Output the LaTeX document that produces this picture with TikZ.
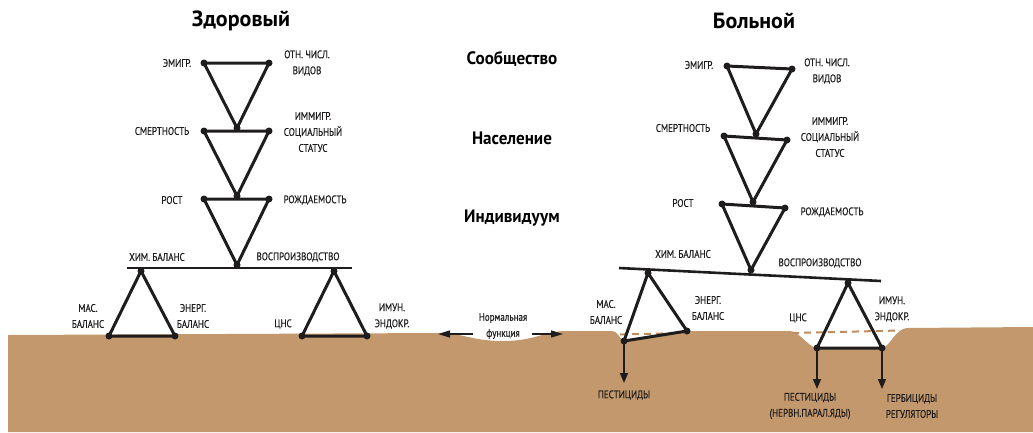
\documentclass[tikz,border=0pt]{standalone}
\usepackage{fontspec}
\setmainfont[FakeStretch=0.82,FakeBold=0.35]{PT Sans}
\newfontfamily\headfont{PT Sans}
\newfontfamily\midfont[FakeStretch=0.95]{PT Sans}
\usetikzlibrary{arrows.meta}
\definecolor{soil}{RGB}{194,152,108}
\definecolor{dashsoil}{RGB}{190,140,95}
\definecolor{ink}{RGB}{30,28,28}
\begin{document}
\begin{tikzpicture}[x=1pt,y=-1pt,
  dot/.style={circle,fill=ink,inner sep=0pt,minimum size=7pt},
  tri/.style={draw=ink,line width=3pt,line join=round},
  barline/.style={draw=ink,line width=2.6pt},
  arr/.style={draw=ink,line width=1.5pt,-{Triangle[length=10pt,width=8pt]}},
  narr/.style={draw=ink,line width=1.5pt,-{Triangle[length=12pt,width=7pt]}},
  lbl/.style={text=ink,font=\fontsize{11}{16}\selectfont,align=center,inner sep=0pt},
  head/.style={text=black,font=\headfont\bfseries\fontsize{22}{24}\selectfont,inner sep=0pt},
  level/.style={text=black,font=\midfont\bfseries\fontsize{18}{20}\selectfont,inner sep=0pt},
  dashlvl/.style={draw=dashsoil,line width=2pt,dash pattern=on 7pt off 5pt}]
\useasboundingbox (0,0) rectangle (1033,432);

% ground
\fill[soil] (8,335) -- (440,333) .. controls (462,333) and (472,341) .. (503,341)
  .. controls (535,341) and (545,331) .. (566,331) -- (612,331)
  .. controls (618,331) and (620,340) .. (624,341) -- (687,331) -- (790,331)
  .. controls (800,332) and (808,347) .. (817,348) -- (882,348)
  .. controls (890,347) and (895,329) .. (907,328) -- (1033,327)
  -- (1033,432) -- (8,432) -- cycle;

% headings
\node[head] (hL) at (241,21) {Здоровый};
\node[head] (hR) at (754,21) {Больной};
\node[level] (lv1) at (512,59) {Сообщество};
\node[level] (lv2) at (512,138) {Население};
\node[level] (lv3) at (512,218) {Индивидуум};

% ===== healthy =====
\node[dot] (l1a) at (204,63) {};
\node[dot] (l1b) at (269,63) {};
\node[dot] (l1c) at (237,128) {};
\node[dot] (l2a) at (204,131) {};
\node[dot] (l2b) at (269,131) {};
\node[dot] (l2c) at (237,196) {};
\node[dot] (l3a) at (204,199) {};
\node[dot] (l3b) at (269,199) {};
\node[dot] (l3c) at (237,265) {};
\coordinate (lbarA) at (127,268);
\coordinate (lbarB) at (352,268);
\node[dot] (lt1) at (141,271) {};
\node[dot] (lt1a) at (109,336) {};
\node[dot] (lt1b) at (175,336) {};
\node[dot] (lt2) at (334,271) {};
\node[dot] (lt2a) at (302,336) {};
\node[dot] (lt2b) at (367,336) {};

\draw[tri] (l1a.center) -- (l1b.center) -- (l1c.center) -- cycle;
\draw[tri] (l2a.center) -- (l2b.center) -- (l2c.center) -- cycle;
\draw[tri] (l3a.center) -- (l3b.center) -- (l3c.center) -- cycle;
\draw[barline] (lbarA) -- (lbarB);
\draw[tri] (lt1.center) -- (lt1a.center) -- (lt1b.center) -- cycle;
\draw[tri] (lt2.center) -- (lt2a.center) -- (lt2b.center) -- cycle;

\node[lbl] (tl1) at (177,63) {ЭМИГР.};
\node[lbl] (tl2) at (307,63) {ОТН. ЧИСЛ.\\ВИДОВ};
\node[lbl] (tl3) at (162,131) {СМЕРТНОСТЬ};
\node[lbl] (tl4) at (313,132) {ИММИГР.\\СОЦИАЛЬНЫЙ\\СТАТУС};
\node[lbl] (tl5) at (172,200) {РОСТ};
\node[lbl] (tl6) at (315,200) {РОЖДАЕМОСТЬ};
\node[lbl] (tl7) at (157,257) {ХИМ. БАЛАНС};
\node[lbl] (tl8) at (298,257) {ВОСПРОИЗВОДСТВО};
\node[lbl] (tl9) at (88,316) {МАС.\\БАЛАНС};
\node[lbl] (tl10) at (193,316) {ЭНЕРГ.\\БАЛАНС};
\node[lbl] (tl11) at (283,324) {ЦНС};
\node[lbl] (tl12) at (392,316) {ИМУН.\\ЭНДОКР.};

% normal function
\node[lbl] (nf) at (503,326) {Нормальная\\функция};
\coordinate (nfL) at (438,334);
\coordinate (nfR) at (563,334);
\coordinate (nfLs) at (473,334);
\coordinate (nfRs) at (532,334);
\draw[narr] (nfLs) -- (nfL);
\draw[narr] (nfRs) -- (nfR);

% ===== sick =====
\node[dot] (r1a) at (727,66) {};
\node[dot] (r1b) at (792,69) {};
\node[dot] (r1c) at (756,134) {};
\node[dot] (r2a) at (724,136) {};
\node[dot] (r2b) at (787,140) {};
\node[dot] (r2c) at (753,202) {};
\node[dot] (r3a) at (722,204) {};
\node[dot] (r3b) at (785,208) {};
\node[dot] (r3c) at (751,270) {};
\coordinate (rbarA) at (619,268);
\coordinate (rbarB) at (881,281);
\node[dot] (rt1) at (648,273) {};
\node[dot] (rt1a) at (624,341) {};
\node[dot] (rt1b) at (687,331) {};
\node[dot] (rt2) at (848,283) {};
\node[dot] (rt2a) at (817,348) {};
\node[dot] (rt2b) at (882,348) {};

\draw[dashlvl] (620,334.5) -- (682,333);
\draw[dashlvl] (792,333) -- (900,330.5);

\draw[tri] (r1a.center) -- (r1b.center) -- (r1c.center) -- cycle;
\draw[tri] (r2a.center) -- (r2b.center) -- (r2c.center) -- cycle;
\draw[tri] (r3a.center) -- (r3b.center) -- (r3c.center) -- cycle;
\draw[barline] (rbarA) -- (rbarB);
\draw[tri] (rt1.center) -- (rt1a.center) -- (rt1b.center) -- cycle;
\draw[tri] (rt2.center) -- (rt2a.center) -- (rt2b.center) -- cycle;

\coordinate (ae1) at (624,383);
\coordinate (ae2) at (817,389);
\coordinate (ae3) at (882,389);
\draw[arr] (rt1a.center) -- (ae1);
\draw[arr] (rt2a.center) -- (ae2);
\draw[arr] (rt2b.center) -- (ae3);

\node[lbl] (tr1) at (699,65) {ЭМИГР.};
\node[lbl] (tr2) at (827,71) {ОТН. ЧИСЛ.\\ВИДОВ};
\node[lbl] (tr3) at (683,128) {СМЕРТНОСТЬ};
\node[lbl] (tr4) at (830,137) {ИММИГР.\\СОЦИАЛЬНЫЙ\\СТАТУС};
\node[lbl] (tr5) at (683,203) {РОСТ};
\node[lbl] (tr6) at (832,212) {РОЖДАЕМОСТЬ};
\node[lbl] (tr7) at (683,254) {ХИМ. БАЛАНС};
\node[lbl] (tr8) at (820,263) {ВОСПРОИЗВОДСТВО};
\node[lbl] (tr9) at (606,312) {МАС.\\БАЛАНС};
\node[lbl] (tr10) at (708,308) {ЭНЕРГ.\\БАЛАНС};
\node[lbl] (tr11) at (798,318) {ЦНС};
\node[lbl] (tr12) at (892,309) {ИМУН.\\ЭНДОКР.};
\node[lbl] (tr13) at (624,395) {ПЕСТИЦИДЫ};
\node[lbl] (tr14) at (810,406) {ПЕСТИЦИДЫ\\(НЕРВН.ПАРАЛ.ЯДЫ)};
\node[lbl] (tr15) at (912,406) {ГЕРБИЦИДЫ\\РЕГУЛЯТОРЫ};
\end{tikzpicture}
\end{document}
